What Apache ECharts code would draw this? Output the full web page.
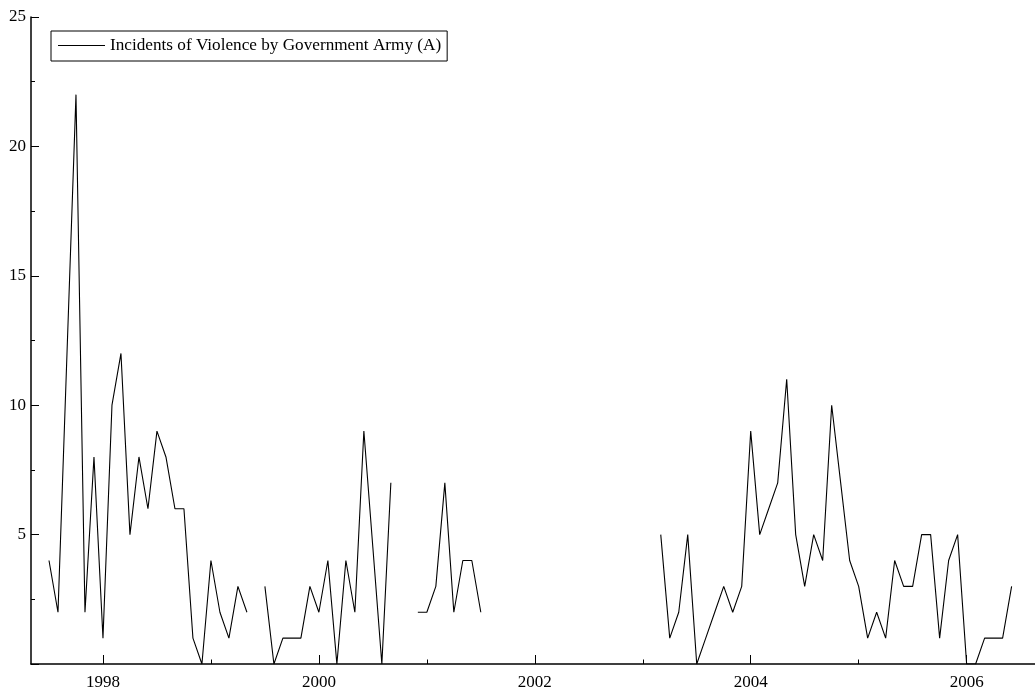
<!DOCTYPE html>
<html>
<head>
<meta charset="utf-8">
<script src="https://cdn.jsdelivr.net/npm/echarts@6/dist/echarts.min.js"></script>
<style>html,body{margin:0;padding:0;background:#fff}#c{width:1035px;height:693px}</style>
</head>
<body>
<div id="c"></div>
<script>
// Monthly series, July 1997 to June 2006 (null = no observation)
var seriesName = 'Incidents of Violence by Government Army (A)';
var startYear = 1997, startMonth = 7;
var v1997 = [4, 2, 12, 22, 2, 8];                       // Jul-Dec
var v1998 = [1, 10, 12, 5, 8, 6, 9, 8, 6, 6, 1, 0];
var v1999 = [4, 2, 1, 3, 2, null, 3, 0, 1, 1, 1, 3];
var v2000 = [2, 4, 0, 4, 2, 9, 4.5, 0, 7, null, null, 2];
var v2001 = [2, 3, 7, 2, 4, 4, 2, null, null, null, null, null];
var v2002 = [null, null, null, null, null, null, null, null, null, null, null, null];
var v2003 = [null, null, 5, 1, 2, 5, 0, 1, 2, 3, 2, 3];
var v2004 = [9, 5, 6, 7, 11, 5, 3, 5, 4, 10, 7, 4];
var v2005 = [3, 1, 2, 1, 4, 3, 3, 5, 5, 1, 4, 5];
var v2006 = [0, 0, 1, 1, 1, 3];                         // Jan-Jun
var xLabelYears = [1998, 2000, 2002, 2004, 2006];
var xMinorYears = [1997, 1999, 2001, 2003, 2005];
var yLabels = [5, 10, 15, 20, 25];

var values = [].concat(v1997, v1998, v1999, v2000, v2001, v2002, v2003, v2004, v2005, v2006);
var data = values.map(function (v, i) {
  var m = startMonth - 1 + i;
  var t = startYear + m / 12;           // decimal year at start of month
  return [t, v];
});

var font = 'Liberation Serif, Times New Roman, serif';
var chart = echarts.init(document.getElementById('c'), null, {renderer: 'canvas'});
chart.setOption({
  animation: false,
  backgroundColor: '#fff',
  grid: {left: 31, right: 0, top: 17, bottom: 29, containLabel: false},
  legend: {
    left: 51, top: 31,
    orient: 'horizontal',
    padding: [6, 6, 7, 7],
    borderColor: '#000', borderWidth: 1, borderRadius: 0,
    itemWidth: 47, itemHeight: 1,
    icon: 'rect',
    textStyle: {fontFamily: font, fontSize: 17.2, color: '#000'},
    itemStyle: {color: '#000'},
    data: [{name: seriesName, icon: 'rect'}]
  },
  xAxis: [{
    type: 'value',
    min: 1998 - 8 / 12, max: 1998 + 103.6 / 12,
    axisLine: {show: true, onZero: false, lineStyle: {color: '#000', width: 1.5}},
    axisTick: {show: true, inside: true, length: 9, lineStyle: {color: '#000'}, customValues: xLabelYears},
    axisLabel: {show: true, color: '#000', fontFamily: font, fontSize: 17, margin: 10, customValues: xLabelYears,
      formatter: function (v) { return String(Math.round(v)); }},
    splitLine: {show: false}
  }, {
    type: 'value',
    min: 1998 - 8 / 12, max: 1998 + 103.6 / 12,
    position: 'bottom',
    axisLine: {show: false},
    axisTick: {show: true, inside: true, length: 4.5, lineStyle: {color: '#000'}, customValues: xMinorYears},
    axisLabel: {show: false},
    splitLine: {show: false}
  }],
  yAxis: {
    type: 'value', min: 0, max: 25, interval: 5,
    axisLine: {show: true, lineStyle: {color: '#000', width: 1.5}},
    axisTick: {show: true, inside: true, length: 8, lineStyle: {color: '#000'}},
    minorTick: {show: true, splitNumber: 2, length: 4, lineStyle: {color: '#000'}},
    axisLabel: {color: '#000', fontFamily: font, fontSize: 17, margin: 5,
      formatter: function (v) { return yLabels.indexOf(v) >= 0 ? String(v) : ''; }},
    splitLine: {show: false}
  },
  series: [{
    name: seriesName,
    type: 'line',
    xAxisIndex: 0,
    data: data,
    symbol: 'none',
    showSymbol: false,
    connectNulls: false,
    lineStyle: {color: '#000', width: 1.1},
    itemStyle: {color: '#000'}
  }]
});
</script>
</body>
</html>
